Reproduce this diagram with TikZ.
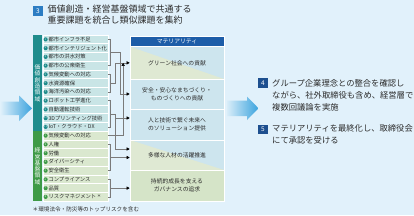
\documentclass[tikz,border=0pt]{standalone}
\usepackage{fontspec}
\newfontfamily\jp{Noto Sans CJK JP}
\usetikzlibrary{arrows.meta,calc,positioning}
\definecolor{BgBlue}{HTML}{E1F1FB}
\definecolor{TitleBlue}{HTML}{2C7DC3}
\definecolor{StepNavy}{HTML}{1D4F8F}
\definecolor{ValTeal}{HTML}{1F8C8C}
\definecolor{ValTealLt}{HTML}{C9E5E6}
\definecolor{BaseGreen}{HTML}{3E9A47}
\definecolor{BaseGreenLt}{HTML}{DAE8CF}
\definecolor{MatHead}{HTML}{1D5DA8}
\definecolor{MatBlue}{HTML}{CDE5EE}
\definecolor{MatGreen}{HTML}{D5E4C8}
\definecolor{MatGreenPale}{HTML}{DFE9D3}
\definecolor{InkDark}{HTML}{2B2B2B}
\definecolor{LinkGray}{HTML}{7A7A7A}
\definecolor{ArrowBlue}{HTML}{3BA3DE}
\tikzset{
  numbox/.style={fill=#1, text=white, font=\jp\fontsize{6.5}{6.5}\selectfont,
             minimum width=10.5pt, minimum height=9.5pt, inner sep=0pt},
  itembox/.style={fill=#1, draw=white, line width=0.6pt, anchor=west,
             minimum width=64.5pt, minimum height=8.75pt, inner sep=0pt,
             text width=54pt, align=left, text=InkDark,
             font=\jp\fontsize{5.3}{5.3}\selectfont},
  numdot/.style={circle, fill=#1, text=white, font=\fontsize{2.6}{2.6}\selectfont,
             minimum size=4.2pt, inner sep=0pt},
  areabar/.style={fill=#1, text=white, minimum width=9pt, inner sep=0pt,
             align=center, font=\jp\fontsize{5.8}{6.3}\selectfont},
  matrow/.style={fill=#1, draw=white, line width=0.7pt, minimum width=94pt,
             inner sep=0pt, align=center, text=InkDark,
             font=\jp\fontsize{5.8}{8.4}\selectfont},
  matsplit/.style={matrow=MatBlue, path picture={
             \fill[MatGreenPale] (path picture bounding box.north west)
               -- (path picture bounding box.south east)
               -- (path picture bounding box.south west) -- cycle;}},
  steptext/.style={anchor=north west, inner sep=0pt, align=left, text=InkDark,
             font=\jp\fontsize{8.3}{12.1}\selectfont},
}
\begin{document}
\begin{tikzpicture}[x=1pt, y=-1pt,
  brk/.style={draw=LinkGray, line width=0.5pt},
  flow/.style={-{Triangle[length=3pt, width=3.2pt, color=black]}, draw=LinkGray, line width=0.5pt},
]
\useasboundingbox (0,0) rectangle (414,215);
\fill[BgBlue] (0,0) rectangle (414,215);
% ---------- title
\node[numbox=TitleBlue] (n3) at (38,11.2) {3};
\node[steptext, font=\jp\fontsize{9}{11.4}\selectfont] (ttl) at (47.5,4.8)
  {価値創造・経営基盤領域で共通する\\重要課題を統合し類似課題を集約};
% ---------- incoming arrow
\shade[left color=BgBlue, right color=ArrowBlue]
  (0,101.5) -- (19,101.5) -- (19,95.5) -- (32,108.3) -- (19,121) -- (19,115) -- (0,115) -- cycle;
% ---------- area bars
\node[areabar=ValTeal, minimum height=96.25pt] (vb) at (37.5,83.1) {価\\値\\創\\造\\領\\域};
\node[areabar=BaseGreen, minimum height=70pt] (gb) at (37.5,166.25) {経\\営\\基\\盤\\領\\域};
% ---------- issue lists
\foreach \i/\txt in {1/都市インフラ不足, 2/都市インテリジェント化, 3/都市の洪水対策,
    4/都市の公衆衛生, 5/気候変動への対応, 6/水資源確保, 7/海洋汚染への対応,
    8/ロボット工学進化, 9/自動運転技術, 10/3Dプリンティング技術, 11/IoT・クラウド・DX}{
  \pgfmathsetmacro\yy{35+8.75*(\i-0.5)}
  \node[itembox=ValTealLt] (t\i) at (43,\yy) {\txt};
  \node[numdot=ValTeal] (tn\i) at (45.6,\yy) {\i};
}
\foreach \i/\txt in {1/気候変動への対応, 2/人権, 3/労働, 4/ダイバーシティ, 5/安全衛生,
    6/コンプライアンス, 7/品質, 8/{リスクマネジメント\,\raisebox{1pt}{\fontsize{4}{4}\selectfont ＊}}}{
  \pgfmathsetmacro\yy{131.25+8.75*(\i-0.5)}
  \node[itembox=BaseGreenLt] (g\i) at (43,\yy) {\txt};
  \node[numdot=BaseGreen] (gn\i) at (45.6,\yy) {\i};
}
\node[anchor=west, inner sep=0pt, text=InkDark, font=\jp\fontsize{5.6}{5.6}\selectfont] (foot) at (32.5,209.5)
  {＊環境法令・防災等のトップリスクを含む};
% ---------- materiality panel
\node[matrow=MatHead, text=white, minimum height=10pt] (mh) at (177,41.7) {マテリアリティ};
\node[matsplit, minimum height=32.3pt] (m1) at (177,62.85) {グリーン社会への貢献};
\node[matrow=MatBlue, minimum height=30pt] (m2) at (177,94) {安全・安心なまちづくり・\\ものづくりへの貢献};
\node[matrow=MatBlue, minimum height=31pt] (m3) at (177,124.5) {人と技術で繋ぐ未来へ\\のソリューション提供};
\node[matsplit, minimum height=30pt] (m4) at (177,155) {多様な人材の活躍推進};
\node[matrow=MatGreen, minimum height=31pt] (m5) at (177,185.5) {持続的成長を支える\\ガバナンスの追求};
% ---------- brackets
\draw[brk] (t1.east) -- ++(2.5,0) |- (t4.east);
\draw[brk] (t5.east) -- ++(2.5,0) |- (t7.east);
\draw[brk] (t8.east) -- ++(2.5,0) |- (t11.east);
\draw[brk] (g2.east) -- ++(2.5,0) |- (g5.east);
\draw[brk] (g6.east) -- ++(2.5,0) |- (g8.east);
\coordinate (ja) at ($(t1.east)!0.5!(t4.east)+(2.5,0)$);
\coordinate (jb) at ($(t5.east)!0.5!(t7.east)+(2.5,0)$);
\coordinate (jc) at ($(t8.east)!0.5!(t11.east)+(2.5,0)$);
\coordinate (jd) at ($(g2.east)!0.5!(g5.east)+(2.5,0)$);
\coordinate (je) at ($(g6.east)!0.5!(g8.east)+(2.5,0)$);
% ---------- links to materiality
\draw[flow] (jb) -- ++(5,0) |- (m1.west);
\draw[flow] (ja) -- ++(9.5,0) |- (m2.west);
\draw[flow] (jc) -- ++(5,0) coordinate (kc) |- ($(m3.west)+(0,-6.5)$);
\draw[flow] (kc) |- ($(m4.west)+(0,-6)$);
\draw[flow] (g1.east) -| ($(m1.west)+(-6.5,0)$);
\draw[flow] (jd) -- (jd -| m4.west);
\draw[flow] (je) -- (je -| m5.west);
% ---------- outgoing arrow
\shade[left color=ArrowBlue!20, right color=ArrowBlue]
  (227,100.5) -- (247,100.5) -- (247,96.5) -- (258.5,108.3) -- (247,120) -- (247,116) -- (227,116) -- cycle;
% ---------- steps 4 and 5
\node[numbox=StepNavy] (n4) at (263,83) {4};
\node[steptext] (s4) at (272,78.8)
  {グループ企業理念との整合を確認し\\ながら、社外取締役も含め、経営層で\\複数回議論を実施};
\node[numbox=StepNavy] (n5) at (263,129.5) {5};
\node[steptext] (s5) at (272,124.3)
  {マテリアリティを最終化し、取締役会\\にて承認を受ける};
\end{tikzpicture}
\end{document}
